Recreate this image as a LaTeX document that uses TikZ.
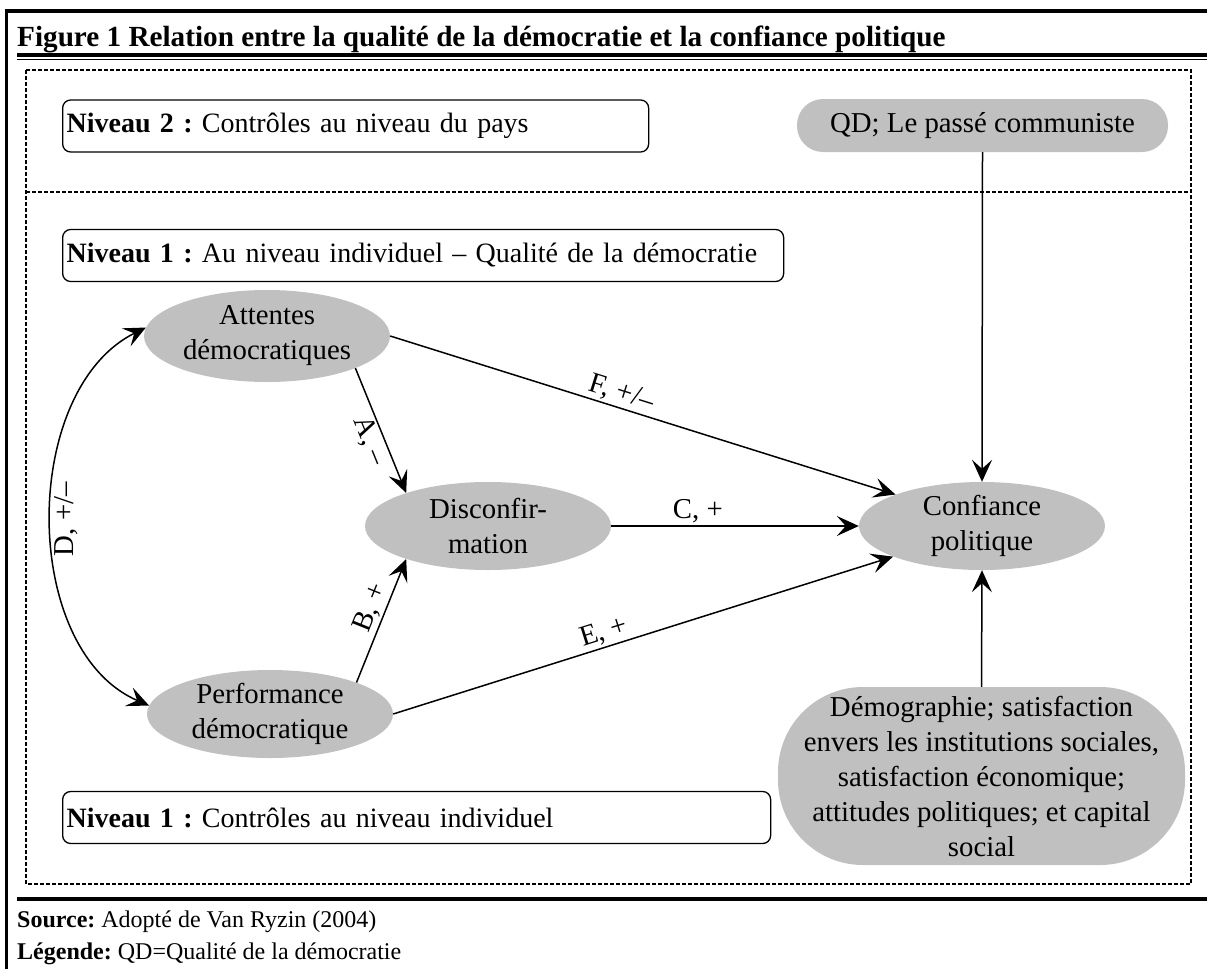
\documentclass[tikz,border=0pt]{standalone}
\usepackage{fontspec}
\setmainfont{Liberation Serif}
\usetikzlibrary{arrows.meta,shapes.geometric}

\definecolor{gris}{RGB}{192,192,192}
\newcommand{\txtnormal}{\fontsize{28.8}{35}\selectfont}
\newcommand{\txtcaja}{\fontsize{28}{34}\selectfont}
\frenchspacing

\begin{document}
\begin{tikzpicture}[x=1pt, y=-1pt,
    elipse/.style={ellipse, fill=gris, minimum width=246pt, minimum height=88pt,
                   inner sep=0pt, align=center, font=\txtnormal},
    caja/.style={draw, rounded corners=8pt, line width=1.3pt, fill=white,
                 anchor=west, minimum height=52pt, inner xsep=4pt, align=left,
                 font=\txtcaja},
    punta/.style={-{Stealth[length=22pt, width=20pt, inset=9pt]}},
    flecha/.style={line width=1.5pt, punta},
    etiq/.style={font=\txtnormal, inner sep=2pt}]
    \useasboundingbox (0,0) rectangle (1212,969);

    % Marco exterior y título
    \draw[line width=3.4pt] (6.7,969) -- (6.7,11) -- (1207,11);
    \node[anchor=base west, inner sep=0pt, font=\fontsize{29.2}{35}\selectfont\bfseries]
        (titulo) at (17,46)
        {Figure 1 Relation entre la qualité de la démocratie et la confiance politique};
    \draw[line width=3.4pt] (17,55) -- (1207,55);
    \draw[line width=1.2pt] (17,59.7) -- (1207,59.7);

    % Marco punteado con los dos niveles
    \draw[line width=1.2pt, dash pattern=on 4pt off 2pt] (26,70) rectangle (1191,884);
    \draw[line width=1.2pt, dash pattern=on 4pt off 2pt] (26,192) -- (1191,192);

    % Pie: fuente y leyenda
    \draw[line width=3.7pt] (17,899) -- (1207,899);
    \node[anchor=base west, inner sep=0pt, font=\fontsize{24}{28}\selectfont]
        (fuente) at (17,927) {\textbf{Source:} Adopté de Van Ryzin (2004)};
    \node[anchor=base west, inner sep=0pt, font=\fontsize{24}{28}\selectfont]
        (leyenda) at (17,959) {\textbf{Légende:} QD=Qualité de la démocratie};

    % Cajas de nivel
    \node[caja, text width=578pt] (niv2) at (62,126)
        {\textbf{Niveau 2 :} Contrôles au niveau du pays};
    \node[caja, text width=713pt] (niv1a) at (62,255.5)
        {\textbf{Niveau 1 :} Au niveau individuel – Qualité de la démocratie};
    \node[caja, text width=700pt] (niv1b) at (62,817.5)
        {\textbf{Niveau 1 :} Contrôles au niveau individuel};

    % Variables de control
    \node[fill=gris, rounded corners=26pt, minimum width=371pt, minimum height=53pt,
          inner sep=0pt, font=\txtnormal] (qd) at (982.5,125.5)
        {QD; Le passé communiste};
    \node[fill=gris, rounded corners=85pt, minimum width=407pt, minimum height=178pt,
          inner sep=0pt, align=center, font=\txtnormal] (demo) at (981.5,776)
        {Démographie; satisfaction\\envers les institutions sociales,\\
         satisfaction économique;\\attitudes politiques; et capital\\social};

    % Variables del modelo
    \node[elipse, minimum height=92pt] (att) at (267,336) {Attentes\\démocratiques};
    \node[elipse] (disc) at (488,526) {Disconfir-\\mation};
    \node[elipse] (perf) at (270,714) {Performance\\démocratique};
    \node[elipse] (conf) at (982,526) {Confiance\\politique};

    % Relaciones
    \draw[flecha] (att.-20) -- node[etiq, sloped, below, pos=0.54] {A, –} (disc.158);
    \draw[flecha] (perf.20) -- node[etiq, sloped, above, pos=0.56] {B, +} (disc.202);
    \draw[flecha] (disc.east) -- node[etiq, above, pos=0.35] {C, +} (conf.west);
    \draw[flecha] (att.east) -- node[etiq, sloped, above, pos=0.45] {F, +/–} (conf.160);
    \draw[flecha] (perf.east) -- node[etiq, sloped, above, pos=0.43] {E, +} (conf.199);
    \draw[flecha] (qd.south) -- (conf.north);
    \draw[flecha] (demo.north) -- (conf.south);

    % Covarianza entre expectativas y desempeño
    \draw[line width=1.5pt, {Stealth[length=22pt, width=20pt, inset=9pt]}-{Stealth[length=22pt, width=20pt, inset=9pt]}]
        (perf.176) .. controls (20,650) and (20,390) .. (att.176)
        node[etiq, pos=0.5, rotate=90, anchor=north] {D, +/–};
\end{tikzpicture}
\end{document}
